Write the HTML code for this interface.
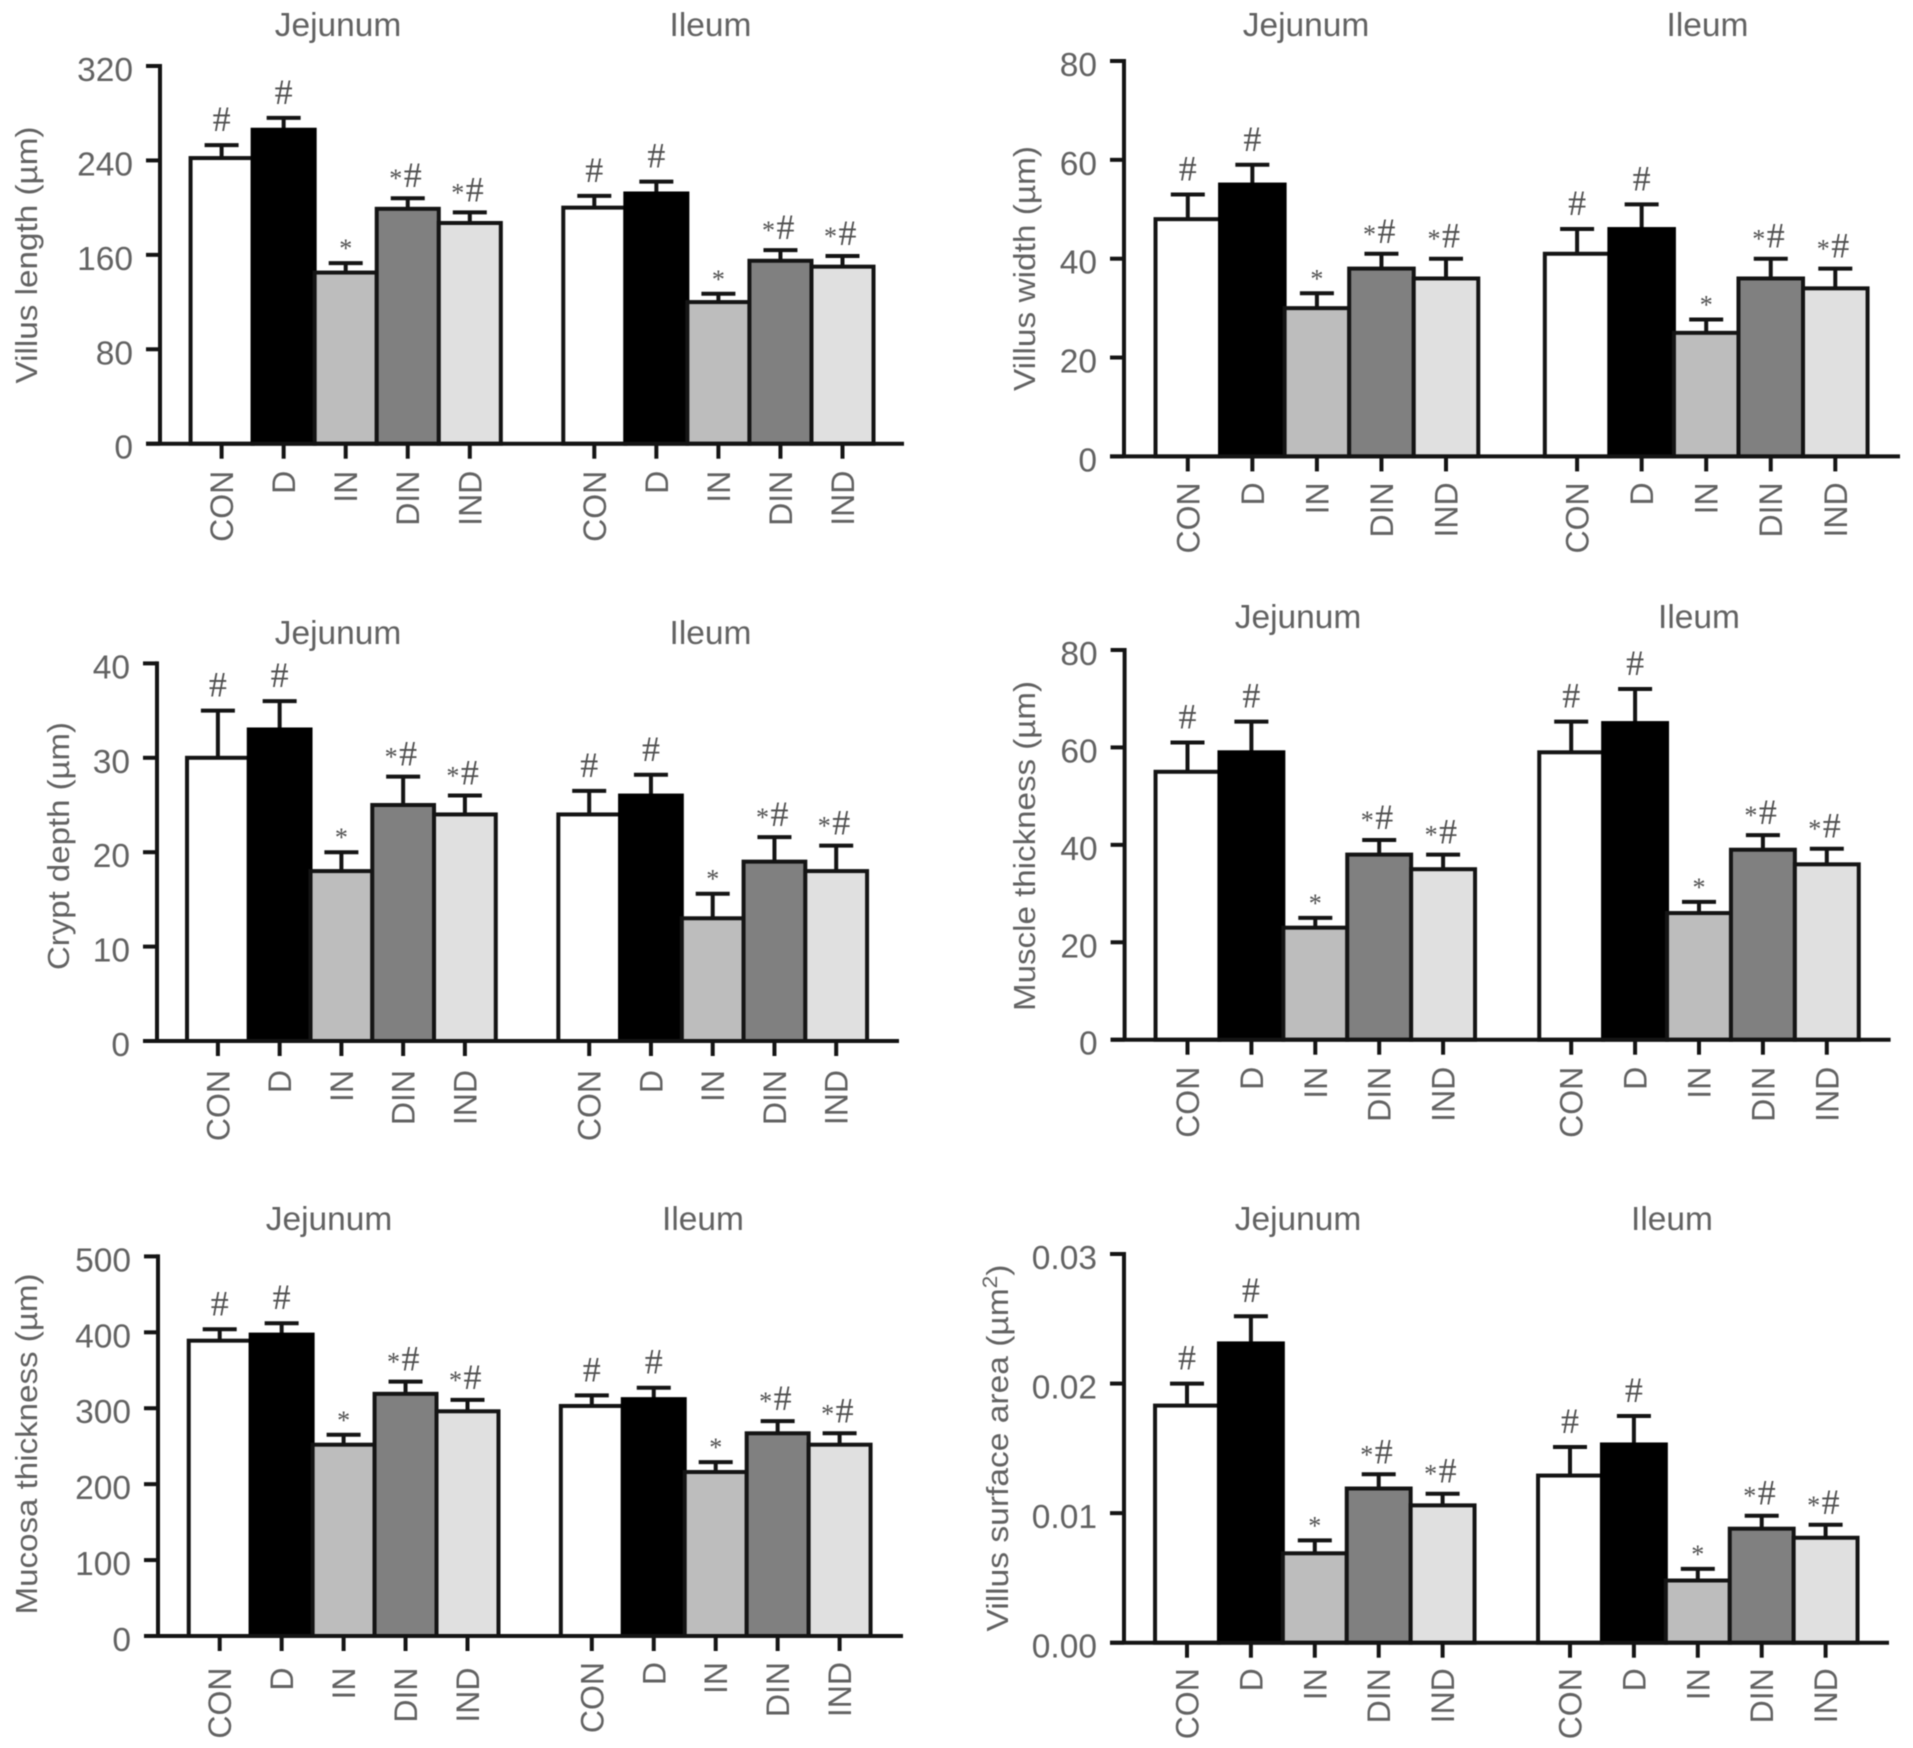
<!DOCTYPE html>
<html lang="en">
<head>
<meta charset="utf-8">
<title>Intestinal morphology bar charts</title>
<style>
html,body{margin:0;padding:0;background:#fff;}
svg{display:block;filter:blur(0.6px);}
text{font-family:"Liberation Sans",sans-serif;fill:#626262;}
.sig{font-family:"Liberation Serif",serif;fill:#505050;}
</style>
</head>
<body>
<svg id="fig" xmlns="http://www.w3.org/2000/svg" width="1913" height="1748" viewBox="0 0 1913 1748"></svg>
<script>
/* ---------- categories and shared labels ---------- */
const categories = ['CON', 'D', 'IN', 'DIN', 'IND'];
const sections = ['Jejunum', 'Ileum'];
const sigMarks = ['#', '#', '*', '*#', '*#'];

/* ---------- villus length ---------- */
const villusLengthTicks = ['0', '80', '160', '240', '320'];
const villusLengthJejunum = [242, 266, 145, 199, 187];
const villusLengthJejunumUpper = [253, 276, 153, 208, 196];
const villusLengthIleum = [200, 212, 120, 155, 150];
const villusLengthIleumUpper = [210, 222, 127, 164, 159];

/* ---------- villus width ---------- */
const villusWidthTicks = ['0', '20', '40', '60', '80'];
const villusWidthJejunum = [48, 55, 30, 38, 36];
const villusWidthJejunumUpper = [53, 59, 33, 41, 40];
const villusWidthIleum = [41, 46, 25, 36, 34];
const villusWidthIleumUpper = [46, 51, 27.7, 40, 38];

/* ---------- crypt depth ---------- */
const cryptDepthTicks = ['0', '10', '20', '30', '40'];
const cryptDepthJejunum = [30, 33, 18, 25, 24];
const cryptDepthJejunumUpper = [35, 36, 20, 28, 26];
const cryptDepthIleum = [24, 26, 13, 19, 18];
const cryptDepthIleumUpper = [26.5, 28.2, 15.6, 21.6, 20.7];

/* ---------- muscle thickness ---------- */
const muscleTicks = ['0', '20', '40', '60', '80'];
const muscleJejunum = [55, 59, 23, 38, 35];
const muscleJejunumUpper = [61, 65.3, 25, 41, 38];
const muscleIleum = [59, 65, 26, 39, 36];
const muscleIleumUpper = [65.3, 72, 28.3, 42, 39.2];

/* ---------- mucosa thickness ---------- */
const mucosaTicks = ['0', '100', '200', '300', '400', '500'];
const mucosaJejunum = [389, 397, 252, 319, 296];
const mucosaJejunumUpper = [404, 412, 265, 335, 311];
const mucosaIleum = [303, 312, 216, 267, 252];
const mucosaIleumUpper = [317, 327, 229, 283, 267];

/* ---------- villus surface area ---------- */
const surfaceTicks = ['0.00', '0.01', '0.02', '0.03'];
const surfaceJejunum = [0.0183, 0.0231, 0.0069, 0.0119, 0.0106];
const surfaceJejunumUpper = [0.0200, 0.0252, 0.0079, 0.0130, 0.0115];
const surfaceIleum = [0.0129, 0.0153, 0.0048, 0.0088, 0.0081];
const surfaceIleumUpper = [0.0151, 0.0175, 0.0057, 0.0098, 0.0091];

/* ---------- panels: data references plus page layout ---------- */
const fills = ['#ffffff', '#000000', '#bdbdbd', '#808080', '#e0e0e0'];
const panels = [
  {name:'villus-length', title:'Villus length (µm)', ticks:villusLengthTicks,
   jej:villusLengthJejunum, jejUp:villusLengthJejunumUpper, ile:villusLengthIleum, ileUp:villusLengthIleumUpper,
   axisX:160, zeroY:443.7, topY:66, endX:904, jejStart:221.6, ileStart:594.3, step:62.05,
   titleJ:338, titleI:710.5, titleY:36, labJ:27, labI:27, yTitleX:37, yTitleC:255, yTitleL:257},
  {name:'villus-width', title:'Villus width (µm)', ticks:villusWidthTicks,
   jej:villusWidthJejunum, jejUp:villusWidthJejunumUpper, ile:villusWidthIleum, ileUp:villusWidthIleumUpper,
   axisX:1124, zeroY:456.4, topY:61, endX:1900, jejStart:1187.8, ileStart:1577.1, step:64.55,
   titleJ:1306, titleI:1707.5, titleY:36, labJ:26, labI:26, yTitleX:1035, yTitleC:268.5, yTitleL:245},
  {name:'crypt-depth', title:'Crypt depth (µm)', ticks:cryptDepthTicks,
   jej:cryptDepthJejunum, jejUp:cryptDepthJejunumUpper, ile:cryptDepthIleum, ileUp:cryptDepthIleumUpper,
   axisX:157, zeroY:1041, topY:663.4, endX:899, jejStart:217.9, ileStart:589.2, step:61.75,
   titleJ:338, titleI:710.5, titleY:644, labJ:29, labI:29, yTitleX:69, yTitleC:846, yTitleL:248},
  {name:'muscle-thickness', title:'Muscle thickness (µm)', ticks:muscleTicks,
   jej:muscleJejunum, jejUp:muscleJejunumUpper, ile:muscleIleum, ileUp:muscleIleumUpper,
   axisX:1124.6, zeroY:1039.7, topY:650, endX:1890.6, jejStart:1187.5, ileStart:1571.2, step:63.9,
   titleJ:1298, titleI:1699, titleY:628, labJ:27, labI:27, yTitleX:1035, yTitleC:846, yTitleL:330},
  {name:'mucosa-thickness', title:'Mucosa thickness (µm)', ticks:mucosaTicks,
   jej:mucosaJejunum, jejUp:mucosaJejunumUpper, ile:mucosaIleum, ileUp:mucosaIleumUpper,
   axisX:158, zeroY:1636, topY:1256.4, endX:903, jejStart:219.7, ileStart:591.8, step:61.95,
   titleJ:329, titleI:703, titleY:1230, labJ:31.5, labI:26, yTitleX:37, yTitleC:1444, yTitleL:341},
  {name:'villus-surface-area', title:'Villus surface area (µm', superscript:'2', titleEnd:')', ticks:surfaceTicks,
   jej:surfaceJejunum, jejUp:surfaceJejunumUpper, ile:surfaceIleum, ileUp:surfaceIleumUpper,
   axisX:1124, zeroY:1642.7, topY:1254, endX:1889, jejStart:1187, ileStart:1570, step:63.9,
   titleJ:1298, titleI:1672, titleY:1230, labJ:25.5, labI:25.5, yTitleX:1008, yTitleC:1448, yTitleL:367}
];

const NS = 'http://www.w3.org/2000/svg';
const fig = document.getElementById('fig');
const STROKE = 4, INK = '#141414';

function make(tag, parent, attrs) {
  const node = document.createElementNS(NS, tag);
  for (const key in attrs) node.setAttribute(key, attrs[key]);
  parent.appendChild(node);
  return node;
}

function drawPanel(p) {
  const maxV = parseFloat(p.ticks[p.ticks.length - 1]);
  const yScale = v => p.zeroY - (v / maxV) * (p.zeroY - p.topY);

  const g = make('g', fig, {});
  
  

  const groups = [
    {label: sections[0], values: p.jej, upper: p.jejUp, start: p.jejStart, titleX: p.titleJ, labOff: p.labJ},
    {label: sections[1], values: p.ile, upper: p.ileUp, start: p.ileStart, titleX: p.titleI, labOff: p.labI}
  ];
  const xScale = (grp, i) => grp.start + i * p.step;

  groups.forEach(grp => {
    const secKey = grp.label.toLowerCase();

    const sectionTitle = make('text', g, {x: grp.titleX, y: p.titleY, 'text-anchor': 'middle', 'font-size': 33.5});
    
    
    sectionTitle.textContent = grp.label;

    categories.forEach((cat, i) => {
      const cx = xScale(grp, i);
      const yVal = yScale(grp.values[i]);
      const yUp = yScale(grp.upper[i]);
      const key = secKey + '-' + cat.toLowerCase();

      const err = make('g', g, {stroke: INK, 'stroke-width': STROKE, fill: 'none'});
      
      
      make('line', err, {x1: cx, x2: cx, y1: yVal, y2: yUp});
      make('line', err, {x1: cx - 17, x2: cx + 17, y1: yUp, y2: yUp});

      const bar = make('rect', g, {
        x: cx - p.step / 2, y: yVal, width: p.step, height: p.zeroY - yVal,
        fill: fills[i], stroke: i === 1 ? '#000' : INK, 'stroke-width': STROKE
      });
      
      

      const mark = sigMarks[i];
      if (mark.includes('*')) {
        const offset = mark.length > 1 ? -12 : 0;
        const star = make('text', g, {x: cx + offset, y: yUp - (mark.length > 1 ? 11 : 6), 'text-anchor': 'middle', 'font-size': 26});
        star.setAttribute('class', 'sig');
        
        
        star.textContent = '*';
      }
      if (mark.includes('#')) {
        const offset = mark.length > 1 ? 5 : 0;
        const hash = make('text', g, {x: cx + offset, y: yUp - (mark.length > 1 ? 11 : 14), 'text-anchor': 'middle', 'font-size': 36});
        hash.setAttribute('class', 'sig');
        
        
        hash.textContent = '#';
      }

      const tick = make('line', g, {x1: cx, x2: cx, y1: p.zeroY, y2: p.zeroY + 15, stroke: INK, 'stroke-width': STROKE});
      
      

      const lx = cx + 11.5, ly = p.zeroY + grp.labOff;
      const lab = make('text', g, {x: lx, y: ly, 'text-anchor': 'end', 'font-size': 32, transform: 'rotate(-90 ' + lx + ' ' + ly + ')'});
      
      
      lab.textContent = cat;
    });
  });

  const yAxis = make('line', g, {x1: p.axisX, x2: p.axisX, y1: p.topY - 2, y2: p.zeroY, stroke: INK, 'stroke-width': STROKE});
  
  

  const xAxis = make('line', g, {x1: p.axisX - 14, x2: p.endX, y1: p.zeroY, y2: p.zeroY, stroke: INK, 'stroke-width': STROKE});
  
  

  p.ticks.forEach(t => {
    const ty = yScale(parseFloat(t));
    const tk = make('line', g, {x1: p.axisX - 14, x2: p.axisX, y1: ty, y2: ty, stroke: INK, 'stroke-width': STROKE});
    
    

    const tl = make('text', g, {x: p.axisX - 27, y: ty + 15, 'text-anchor': 'end', 'font-size': 33.5});
    
    
    tl.textContent = t;
  });

  const yTitle = make('text', g, {
    x: p.yTitleX, y: p.yTitleC, 'text-anchor': 'middle', 'font-size': 31,
    textLength: p.yTitleL, lengthAdjust: 'spacingAndGlyphs',
    transform: 'rotate(-90 ' + p.yTitleX + ' ' + p.yTitleC + ')'
  });
  
  
  yTitle.appendChild(document.createTextNode(p.title));
  if (p.superscript) {
    const sup = make('tspan', yTitle, {dy: -11, 'font-size': 21});
    
    
    sup.textContent = p.superscript;
    const close = make('tspan', yTitle, {dy: 11});
    
    
    close.textContent = p.titleEnd;
  }
}

panels.forEach(drawPanel);
</script>
</body>
</html>
